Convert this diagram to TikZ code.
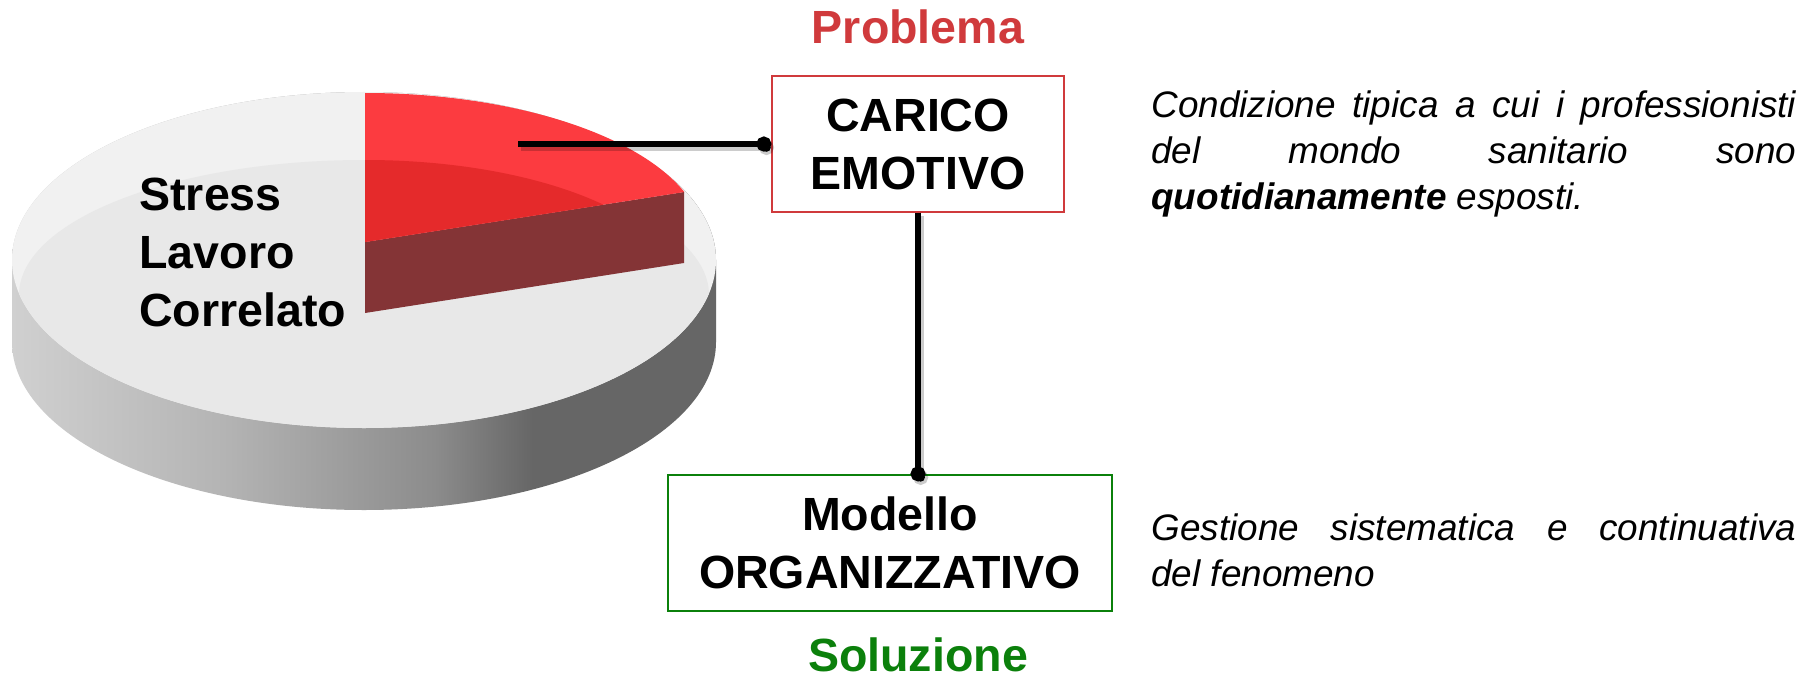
\documentclass[tikz,border=0pt]{standalone}
\usepackage{fontspec}
\setmainfont{Liberation Sans}
\usetikzlibrary{arrows.meta,positioning}

\definecolor{probred}{HTML}{D03A3C}
\definecolor{solgreen}{HTML}{0B800B}
\definecolor{slicered}{HTML}{FC3B40}
\definecolor{slicedeep}{HTML}{E52A2B}
\definecolor{sliceside}{HTML}{843436}
\definecolor{topouter}{HTML}{F1F1F1}
\definecolor{topinner}{HTML}{E8E8E8}
\definecolor{sideA}{HTML}{D0D0D0}
\definecolor{sideB}{HTML}{B4B4B4}
\definecolor{sideC}{HTML}{8C8C8C}
\definecolor{sideD}{HTML}{666666}
\pgfdeclarehorizontalshading{pieside}{100bp}{color(0bp)=(sideA); color(25bp)=(sideA);
  color(40bp)=(sideB); color(55bp)=(sideC); color(62bp)=(sideD); color(100bp)=(sideD)}

\tikzstyle{boxtext} = [font=\fontsize{26.5}{33}\selectfont\bfseries, align=center, inner sep=0pt]
\tikzstyle{problem} = [boxtext, draw=probred, line width=0.8pt,
  minimum width=5.84cm, minimum height=2.72cm]
\tikzstyle{solution} = [boxtext, draw=solgreen, line width=0.8pt,
  minimum width=8.88cm, minimum height=2.72cm]
\tikzstyle{tag} = [font=\fontsize{26.5}{33}\selectfont\bfseries, inner sep=0pt]
\tikzstyle{note} = [font=\fontsize{21}{26.2}\selectfont\itshape, text width=12.9cm,
  align=justify, inner sep=0pt, anchor=base west]
\tikzstyle{link} = [line width=2.9pt, -{Circle[length=8.5pt]},
  preaction={draw=black, draw opacity=0.2, line width=3.6pt,
    transform canvas={xshift=1.5pt, yshift=-2pt}}]

\begin{document}
\begin{tikzpicture}[x=0.02cm, y=0.02cm]
      \def\rx{352}
      \def\ry{168}

      \useasboundingbox (0,0) rectangle (1817,-679);
      \fill[white] (0,0) rectangle (1817,-679);

      \coordinate (O) at (364,-260);
      \coordinate (S) at (365,-242);

      % Pie body
      \shade[shading=pieside] (12,-260) -- (12,-342)
        arc[start angle=180, end angle=360, x radius=\rx, y radius=\ry]
        -- (716,-260) arc[start angle=0, end angle=180, x radius=\rx, y radius=\ry] -- cycle;
      \fill[topouter] (O) ellipse [x radius=\rx, y radius=\ry];
      \begin{scope}
          \clip (O) ellipse [x radius=\rx, y radius=\ry];
          \fill[topinner] (364,-295) ellipse [x radius=345, y radius=135];
      \end{scope}

      % Slice
      \fill[sliceside] (S) -- (684,-192) -- (684,-263) -- (365,-313) -- cycle;
      \fill[slicered] (S) -- (365,-93)
        arc[start angle=90, end angle=19.6, x radius=339, y radius=149] -- cycle;
      \begin{scope}
          \clip (S) -- (365,-93)
            arc[start angle=90, end angle=19.6, x radius=339, y radius=149] -- cycle;
          \fill[slicedeep] (365,-290) ellipse [x radius=316, y radius=130];
      \end{scope}

      \node[tag, anchor=north west, align=left] (stress) at (139,-178)
        {Stress\\Lavoro\\Correlato};
      \coordinate (tip) at (518,-144);

      % Boxes
      \node[problem] (carico) at (918,-144) {CARICO\\EMOTIVO};
      \node[solution] (modello) at (890,-543) {Modello\\ORGANIZZATIVO};

      \node[tag, text=probred, above=0.62cm of carico] (problema) {Problema};
      \node[tag, text=solgreen, anchor=north] (soluzione)
        at ([yshift=-0.52cm] carico.south |- modello.south) {Soluzione};

      % Links
      \draw[link] (tip) -- (carico.west);
      \draw[link, shorten >=-4pt] (carico.south) -- (carico.south |- modello.north);

      % Notes
      \node[note] (condizione) at (1151,-117) {Condizione tipica a cui i professionisti\linebreak
        del mondo sanitario sono\linebreak \textbf{quotidianamente} esposti.};
      \node[note] (gestione) at (1151,-540) {Gestione sistematica e continuativa\linebreak
        del fenomeno};
    \end{tikzpicture}
\end{document}
